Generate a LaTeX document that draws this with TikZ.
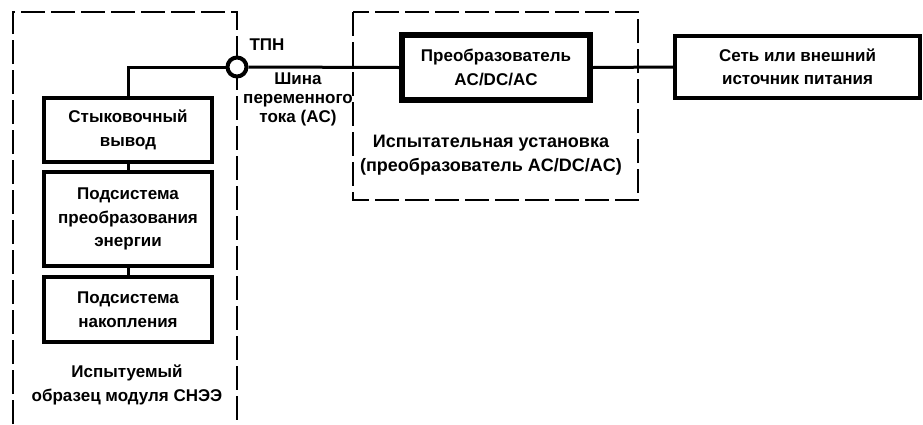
\documentclass[tikz,border=0pt]{standalone}
\usepackage{fontspec}
\setmainfont{Liberation Sans}
\usetikzlibrary{positioning}

\begin{document}
\begin{tikzpicture}[
    x=1pt, y=-1pt,
    every node/.style={font=\fontsize{17}{23.5}\selectfont\bfseries},
    block/.style={rectangle, draw, line width=4pt, align=center, inner sep=0pt},
    mainblock/.style={block, line width=5.5pt},
    frame/.style={draw, line width=2pt, dash pattern=on 24pt off 6pt},
    wire/.style={line width=3pt},
    label/.style={align=center}
]
\useasboundingbox (0,0) rectangle (923,424);

% ================= TEST SAMPLE =================
\draw[frame] (13,424) -- (13,12) -- (237,12) -- (237,424);
\node[block, minimum width=168pt, minimum height=64pt] (dock) at (128,130) {Стыковочный\\вывод};
\node[block, minimum width=168pt, minimum height=94pt] (pcs) at (128,219) {Подсистема\\преобразования\\энергии};
\node[block, minimum width=168pt, minimum height=65pt] (ess) at (128,309.5) {Подсистема\\накопления};
\node[label] (dut) at (127,385) {Испытуемый\\образец модуля СНЭЭ};

\draw[wire] (dock) -- (pcs);
\draw[wire] (pcs) -- (ess);

% ================= POINT OF CONNECTION =================
\node[circle, draw, line width=4pt, fill=white, minimum size=19pt, inner sep=0pt] (tpn) at (237,67) {};
\node[anchor=west] (tpnlbl) at (246,45) {ТПН};
\node[label, font=\fontsize{17}{19}\selectfont\bfseries] (bus) at (298,99) {Шина\\переменного\\тока (AC)};

% ================= TEST FACILITY =================
\draw[frame] (353,12) rectangle (638,200);
\node[mainblock, minimum width=188pt, minimum height=65pt] (acdc) at (496,67.5) {Преобразователь\\AC/DC/AC};
\node[label, font=\fontsize{18}{24}\selectfont\bfseries] (rig) at (491,155) {Испытательная установка\\(преобразователь AC/DC/AC)};

% ================= GRID =================
\node[block, minimum width=245pt, minimum height=62pt] (grid) at (797.5,67) {Сеть или внешний\\источник питания};

\draw[wire] (tpn.west) -| (dock.north);
\draw[wire] (tpn.east) -- (acdc.west);
\draw[wire] (acdc.east) -- (grid.west);

\end{tikzpicture}
\end{document}
